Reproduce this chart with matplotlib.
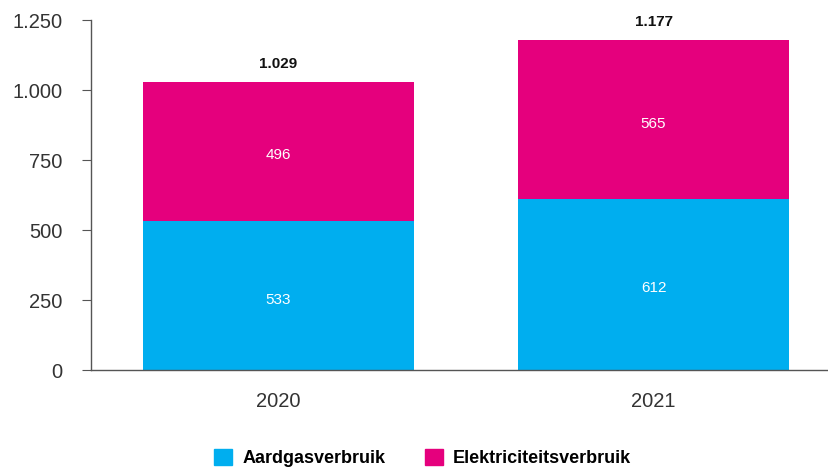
import matplotlib.pyplot as plt
from matplotlib.patches import Patch
from matplotlib.ticker import FuncFormatter

plt.rcParams["font.family"] = ["Liberation Sans", "DejaVu Sans"]

years = ["2020", "2021"]
aardgas = [533, 612]
elektriciteit = [496, 565]
totals = [1029, 1177]
series_names = ["Aardgasverbruik", "Elektriciteitsverbruik"]

blue = "#00AEEF"
magenta = "#E5007D"


def nl(v):
    return f"{int(v):,}".replace(",", ".")


fig = plt.figure(figsize=(8.29, 4.70), dpi=100)
ax = fig.add_axes([91 / 829, 1 - 370 / 470, 1 - 91 / 829, 350 / 470])

x = range(len(years))
ax.bar(x, aardgas, width=0.723, color=blue)
ax.bar(x, elektriciteit, width=0.723, bottom=aardgas, color=magenta)

for i in x:
    ax.annotate(str(aardgas[i]), (i, aardgas[i] / 2), xytext=(0, -3),
                textcoords="offset points", ha="center", va="center",
                color="white", fontsize=11)
    ax.annotate(str(elektriciteit[i]), (i, aardgas[i] + elektriciteit[i] / 2),
                xytext=(0, -3), textcoords="offset points", ha="center",
                va="center", color="white", fontsize=11)
    ax.annotate(nl(totals[i]), (i, totals[i]), xytext=(0, 8),
                textcoords="offset points", ha="center", va="bottom",
                fontsize=11, fontweight="bold", color="#111111")

ax.set_xlim(-0.5, 1.468)
ax.set_ylim(0, 1250)
ax.set_yticks([0, 250, 500, 750, 1000, 1250])
ax.yaxis.set_major_formatter(FuncFormatter(lambda v, p: nl(v)))
ax.set_xticks(list(x))
ax.set_xticklabels(years)

for s in ["top", "right"]:
    ax.spines[s].set_visible(False)
for s in ["left", "bottom"]:
    ax.spines[s].set_color("#555555")
    ax.spines[s].set_linewidth(1)
ax.tick_params(axis="y", length=6.5, color="#555555", labelsize=14.5,
               labelcolor="#333333", pad=14)
ax.tick_params(axis="x", length=0, labelsize=14.5, labelcolor="#333333", pad=16)

handles = [Patch(color=blue), Patch(color=magenta)]
fig.legend(handles, series_names, loc="center", bbox_to_anchor=(0.51, 0.026),
           ncol=2, frameon=False, handlelength=1.0, handleheight=1.0,
           columnspacing=2.2, handletextpad=0.55,
           prop={"weight": "bold", "size": 13})

fig.savefig("out.png", dpi=100)
